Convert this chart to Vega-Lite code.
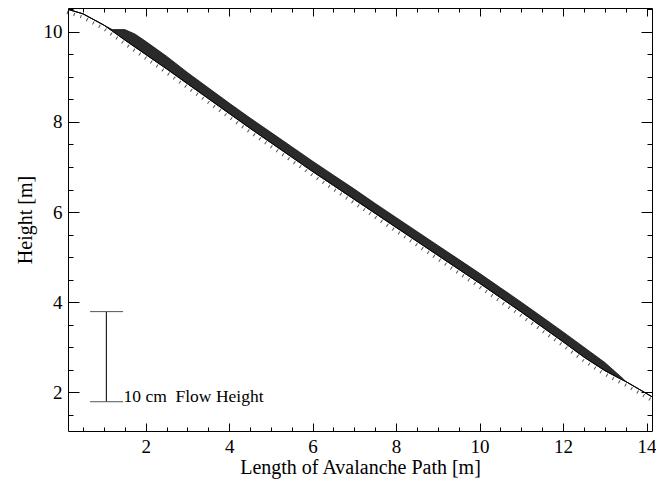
{
  "$schema": "https://vega.github.io/schema/vega-lite/v6.json",
  "width": 584,
  "height": 423,
  "autosize": {"type": "none"},
  "padding": {"left": 68, "top": 8, "right": 4, "bottom": 52},
  "background": "white",
  "config": {
    "view": {"stroke": "black", "strokeWidth": 1},
    "font": "Liberation Serif, Times New Roman, serif",
    "axis": {
      "domain": false, "grid": false,
      "labelFont": "Liberation Serif, Times New Roman, serif", "labelFontSize": 19, "labelColor": "black",
      "titleFont": "Liberation Serif, Times New Roman, serif", "titleFontSize": 20, "titleFontWeight": "normal", "titleColor": "black",
      "tickColor": "black", "tickWidth": 1
    }
  },
  "datasets": {
    "profile": [
      {"x": 0.14, "ground": 10.50, "top": 10.50},
      {"x": 0.5, "ground": 10.40, "top": 10.40},
      {"x": 1.0, "ground": 10.15, "top": 10.15},
      {"x": 1.2, "ground": 10.02, "top": 10.05},
      {"x": 1.5, "ground": 9.82, "top": 10.05},
      {"x": 1.75, "ground": 9.66, "top": 9.95},
      {"x": 2.0, "ground": 9.50, "top": 9.79},
      {"x": 2.5, "ground": 9.18, "top": 9.46},
      {"x": 3.0, "ground": 8.85, "top": 9.10},
      {"x": 3.5, "ground": 8.52, "top": 8.76},
      {"x": 4.0, "ground": 8.19, "top": 8.42},
      {"x": 4.5, "ground": 7.86, "top": 8.09},
      {"x": 5.0, "ground": 7.54, "top": 7.77},
      {"x": 5.5, "ground": 7.22, "top": 7.45},
      {"x": 6.0, "ground": 6.90, "top": 7.13},
      {"x": 6.5, "ground": 6.59, "top": 6.82},
      {"x": 7.0, "ground": 6.28, "top": 6.51},
      {"x": 7.5, "ground": 5.97, "top": 6.19},
      {"x": 8.0, "ground": 5.66, "top": 5.88},
      {"x": 8.5, "ground": 5.35, "top": 5.57},
      {"x": 9.0, "ground": 5.04, "top": 5.26},
      {"x": 9.5, "ground": 4.73, "top": 4.95},
      {"x": 10.0, "ground": 4.42, "top": 4.64},
      {"x": 10.5, "ground": 4.10, "top": 4.32},
      {"x": 11.0, "ground": 3.78, "top": 4.00},
      {"x": 11.5, "ground": 3.45, "top": 3.67},
      {"x": 12.0, "ground": 3.12, "top": 3.34},
      {"x": 12.5, "ground": 2.78, "top": 3.00},
      {"x": 13.0, "ground": 2.48, "top": 2.66},
      {"x": 13.45, "ground": 2.26, "top": 2.29},
      {"x": 13.5, "ground": 2.24, "top": 2.24},
      {"x": 14.13, "ground": 1.90, "top": 1.90}
    ],
    "bar": [{"x": 1.06, "y": 1.79, "y2": 3.79}],
    "caps": [{"x": 0.67, "x2": 1.46, "y": 3.79}, {"x": 0.67, "x2": 1.46, "y": 1.79}],
    "label": [{"x": 1.47, "y": 1.79, "text": "10 cm\u00a0 Flow Height"}]
  },
  "resolve": {"axis": {"x": "independent", "y": "independent"}},
  "layer": [
    {
      "data": {"name": "profile"},
      "mark": {"type": "area", "fill": "#2a2a2a", "stroke": "#111", "strokeWidth": 0.8},
      "encoding": {
        "x": {"field": "x", "type": "quantitative",
              "scale": {"domain": [0.14, 14.13], "nice": false, "zero": false},
              "axis": {"orient": "bottom", "values": [2, 4, 6, 8, 10, 12, 14], "tickSize": -8, "labelPadding": 14, "title": "Length of Avalanche Path [m]", "titlePadding": 1}},
        "y": {"field": "top", "type": "quantitative",
              "scale": {"domain": [1.14, 10.53], "nice": false, "zero": false},
              "axis": {"orient": "left", "values": [2, 4, 6, 8, 10], "tickSize": -11, "labelPadding": 17, "title": "Height [m]", "titlePadding": 8}},
        "y2": {"field": "ground"}
      }
    },
    {
      "data": {"name": "profile"},
      "mark": {"type": "line", "stroke": "black", "strokeWidth": 1},
      "encoding": {
        "x": {"field": "x", "type": "quantitative",
              "scale": {"domain": [0.14, 14.13], "nice": false, "zero": false},
              "axis": {"orient": "bottom", "values": [0.5, 1, 1.5, 2.5, 3, 3.5, 4.5, 5, 5.5, 6.5, 7, 7.5, 8.5, 9, 9.5, 10.5, 11, 11.5, 12.5, 13, 13.5], "tickSize": -4, "labels": false, "title": null}},
        "y": {"field": "ground", "type": "quantitative",
              "scale": {"domain": [1.14, 10.53], "nice": false, "zero": false},
              "axis": {"orient": "left", "values": [1.5, 2.5, 3, 3.5, 4.5, 5, 5.5, 6.5, 7, 7.5, 8.5, 9, 9.5, 10.5], "tickSize": -5, "labels": false, "title": null}}
      }
    },
    {
      "data": {"name": "profile"},
      "mark": {"type": "line", "stroke": "#555", "strokeWidth": 3.5, "strokeDash": [1, 6], "yOffset": 3, "xOffset": -1},
      "encoding": {
        "x": {"field": "x", "type": "quantitative",
              "scale": {"domain": [0.14, 14.13], "nice": false, "zero": false},
              "axis": {"orient": "top", "values": [2, 4, 6, 8, 10, 12, 14], "tickSize": -8, "labels": false, "title": null}},
        "y": {"field": "ground", "type": "quantitative",
              "scale": {"domain": [1.14, 10.53], "nice": false, "zero": false},
              "axis": {"orient": "right", "values": [2, 4, 6, 8, 10], "tickSize": -11, "labels": false, "title": null}}
      }
    },
    {
      "data": {"name": "bar"},
      "mark": {"type": "rule", "stroke": "#222", "strokeWidth": 1.2},
      "encoding": {
        "x": {"field": "x", "type": "quantitative",
              "scale": {"domain": [0.14, 14.13], "nice": false, "zero": false},
              "axis": {"orient": "top", "values": [0.5, 1, 1.5, 2.5, 3, 3.5, 4.5, 5, 5.5, 6.5, 7, 7.5, 8.5, 9, 9.5, 10.5, 11, 11.5, 12.5, 13, 13.5], "tickSize": -4, "labels": false, "title": null}},
        "y": {"field": "y", "type": "quantitative",
              "scale": {"domain": [1.14, 10.53], "nice": false, "zero": false},
              "axis": {"orient": "right", "values": [1.5, 2.5, 3, 3.5, 4.5, 5, 5.5, 6.5, 7, 7.5, 8.5, 9, 9.5, 10.5], "tickSize": -5, "labels": false, "title": null}},
        "y2": {"field": "y2"}
      }
    },
    {
      "data": {"name": "caps"},
      "mark": {"type": "rule", "stroke": "#555", "strokeWidth": 1},
      "encoding": {
        "x": {"field": "x", "type": "quantitative", "scale": {"domain": [0.14, 14.13], "nice": false, "zero": false}, "axis": null},
        "x2": {"field": "x2"},
        "y": {"field": "y", "type": "quantitative", "scale": {"domain": [1.14, 10.53], "nice": false, "zero": false}, "axis": null}
      }
    },
    {
      "data": {"name": "label"},
      "mark": {"type": "text", "align": "left", "baseline": "alphabetic", "font": "Liberation Serif, Times New Roman, serif", "fontSize": 17.5, "color": "black"},
      "encoding": {
        "x": {"field": "x", "type": "quantitative", "scale": {"domain": [0.14, 14.13], "nice": false, "zero": false}, "axis": null},
        "y": {"field": "y", "type": "quantitative", "scale": {"domain": [1.14, 10.53], "nice": false, "zero": false}, "axis": null},
        "text": {"field": "text"}
      }
    }
  ]
}
